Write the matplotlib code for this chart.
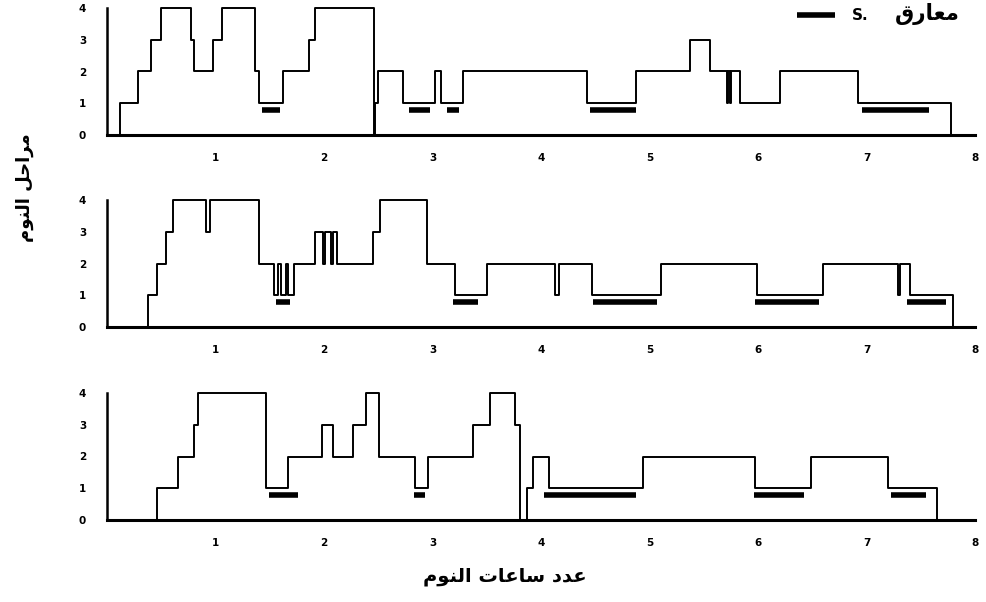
import matplotlib
matplotlib.use('Agg')
import matplotlib.pyplot as plt

# مراحل النوم لثلاث ليال (ساعة البدء، المرحلة)
t1 = [0.00, 0.12, 0.29, 0.41, 0.50, 0.77, 0.80, 0.98, 1.06, 1.36, 1.40, 1.62, 1.86, 1.92,
      2.46, 2.47, 2.50, 2.73, 3.02, 3.08, 3.28, 4.42, 4.88, 5.37, 5.56, 5.71, 5.72, 5.74,
      5.75, 5.83, 6.20, 6.92, 7.78]
s1 = [0, 1, 2, 3, 4, 3, 2, 3, 4, 2, 1, 2, 3, 4,
      0, 1, 2, 1, 2, 1, 2, 1, 2, 3, 2, 1, 2, 1,
      2, 1, 2, 1, 0]
bars1 = [(1.43, 1.59), (2.78, 2.98), (3.13, 3.24), (4.45, 4.88), (6.96, 7.58)]

t2 = [0.00, 0.38, 0.46, 0.54, 0.61, 0.91, 0.95, 1.40, 1.54, 1.58, 1.60, 1.65, 1.67, 1.72,
      1.92, 1.99, 2.01, 2.06, 2.08, 2.12, 2.45, 2.52, 2.95, 3.21, 3.50, 4.13, 4.17, 4.47,
      5.11, 5.99, 6.60, 7.29, 7.31, 7.40, 7.80]
s2 = [0, 1, 2, 3, 4, 3, 4, 2, 1, 2, 1, 2, 1, 2,
      3, 2, 3, 2, 3, 2, 3, 4, 2, 1, 2, 1, 2, 1,
      2, 1, 2, 1, 2, 1, 0]
bars2 = [(1.56, 1.69), (3.19, 3.42), (4.48, 5.07), (5.97, 6.56), (7.37, 7.73)]

t3 = [0.00, 0.46, 0.65, 0.80, 0.84, 1.47, 1.67, 1.98, 2.08, 2.27, 2.39, 2.51, 2.84, 2.96,
      3.37, 3.53, 3.76, 3.81, 3.87, 3.93, 4.07, 4.94, 5.97, 6.49, 7.20, 7.65]
s3 = [0, 1, 2, 3, 4, 1, 2, 3, 2, 3, 4, 2, 1, 2,
      3, 4, 3, 0, 1, 2, 1, 2, 1, 2, 1, 0]
bars3 = [(1.49, 1.76), (2.83, 2.93), (4.03, 4.88), (5.96, 6.42), (7.23, 7.55)]

x_ticks = [1, 2, 3, 4, 5, 6, 7, 8]
y_ticks = [0, 1, 2, 3, 4]
bar_level = 0.78

# النص العربي بأشكال العرض (معكوس لأن matplotlib لا يدعم الاتجاه من اليمين لليسار)
xlabel_txt = '\uFECB\uFEAA\uFEA9 \uFEB3\uFE8E\uFECB\uFE8E\uFE95 \uFE8D\uFEDF\uFEE8\uFEEE\uFEE1'[::-1]
ylabel_txt = '\uFEE3\uFEAE\uFE8D\uFEA3\uFEDE \uFE8D\uFEDF\uFEE8\uFEEE\uFEE1'[::-1]
legend_txt = '\uFEE3\uFECC\uFE8E\uFEAD\uFED5'[::-1]

W, H = 987, 602
fig = plt.figure(figsize=(W / 100, H / 100), dpi=100)

x0 = 107
px_h = 108.5
px_s = 31.75
baselines = [135, 327, 520]
data = [(t1, s1, bars1), (t2, s2, bars2), (t3, s3, bars3)]

for base, (t, s, bars) in zip(baselines, data):
    ax = fig.add_axes([x0 / W, (H - base) / H, 8.05 * px_h / W, 4.15 * px_s / H])
    ax.plot(t, s, drawstyle='steps-post', color='black', lw=1.4)
    ax.hlines([bar_level] * len(bars), [b[0] for b in bars], [b[1] for b in bars],
              color='black', lw=4, capstyle='butt')
    ax.set_xlim(0, 8.05)
    ax.set_ylim(0, 4.15)
    for side in ['top', 'right']:
        ax.spines[side].set_visible(False)
    ax.spines['left'].set_bounds(0, 4)
    ax.spines['bottom'].set_bounds(0, 8)
    ax.spines['left'].set_linewidth(1.8)
    ax.spines['bottom'].set_linewidth(2.2)
    ax.set_xticks(x_ticks)
    ax.set_yticks(y_ticks)
    ax.tick_params(length=0, labelsize=7.5)
    ax.tick_params(axis='x', pad=13)
    ax.tick_params(axis='y', pad=15)
    for lab in ax.get_xticklabels() + ax.get_yticklabels():
        lab.set_fontweight('bold')
    ax.patch.set_alpha(0)

# المفتاح
fig.add_artist(plt.Line2D([797 / W, 835 / W], [1 - 15 / H, 1 - 15 / H], color='black', lw=4,
                          solid_capstyle='butt'))
fig.text(852 / W, 1 - 15 / H, 'S.', fontsize=11, fontweight='bold', ha='left', va='center')
fig.text(960 / W, 1 - 14 / H, legend_txt, fontsize=15.5, fontweight='bold', ha='right', va='center',
         family='DejaVu Sans')

fig.text(505 / W, 1 - 577 / H, xlabel_txt, fontsize=14, fontweight='bold', ha='center', va='center',
         family='DejaVu Sans')
fig.text(25 / W, 1 - 188 / H, ylabel_txt, fontsize=13, fontweight='bold', ha='center', va='center',
         rotation=90, family='DejaVu Sans')

fig.savefig('out.png', dpi=100)
